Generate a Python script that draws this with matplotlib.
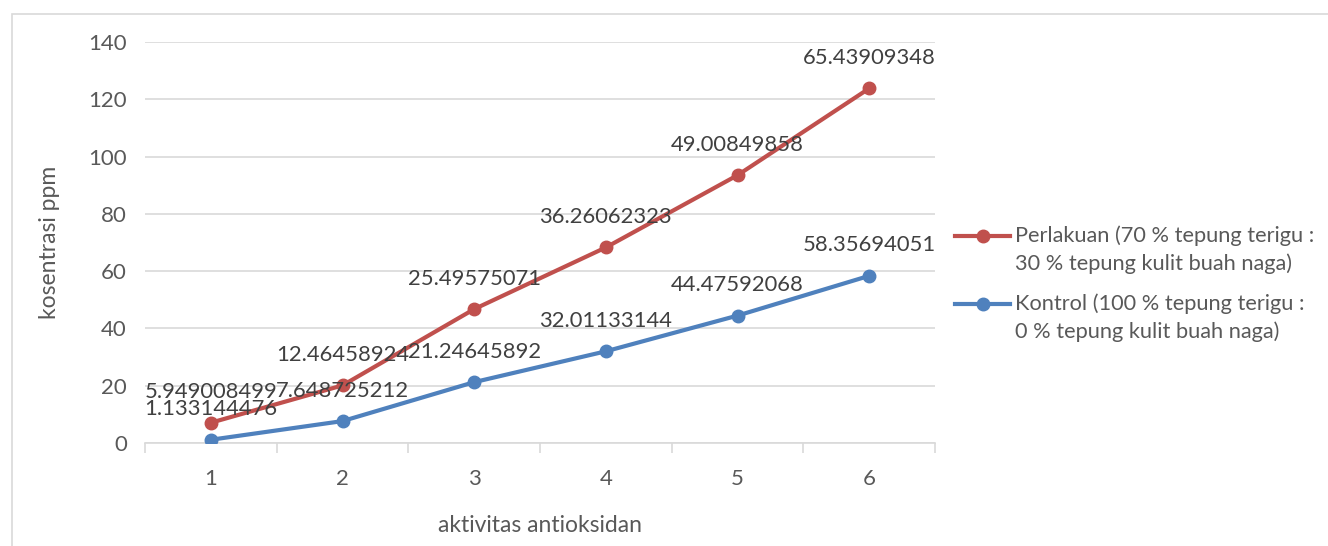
import matplotlib
matplotlib.use("Agg")
import matplotlib.pyplot as plt
from matplotlib.lines import Line2D
from matplotlib.patches import Rectangle
import numpy as np

categories = [1, 2, 3, 4, 5, 6]
kontrol = [1.133144476, 7.648725212, 21.24645892, 32.01133144, 44.47592068, 58.35694051]
perlakuan = [5.949008499, 12.46458924, 25.49575071, 36.26062323, 49.00849858, 65.43909348]
label_perlakuan = ["Perlakuan (70 % tepung terigu :", "30 % tepung kulit buah naga)"]
label_kontrol = ["Kontrol (100 % tepung terigu :", "0 % tepung kulit buah naga)"]
y_ticks = [0, 20, 40, 60, 80, 100, 120, 140]

RED = "#C0504D"
BLUE = "#4F81BD"
TXT = "#595959"
LBL = "#404040"
FONT = "Lato"

W, H = 1328, 546
fig = plt.figure(figsize=(W / 100, H / 100), dpi=100)
fig.patch.set_facecolor("white")

# chart border (Excel chart area)
fig.patches.append(Rectangle((12 / W, 1 - 560 / H), 1340 / W, (560 - 14) / H,
                             transform=fig.transFigure, fill=False,
                             edgecolor="#d9d9d9", linewidth=1.2))

ax = fig.add_axes([145 / W, 1 - 443 / H, (935 - 145) / W, (443 - 42) / H])
x = np.arange(len(categories))
stacked = np.add(kontrol, perlakuan)

ax.plot(x, kontrol, color=BLUE, lw=3, marker="o", ms=9, zorder=3, solid_capstyle="round")
ax.plot(x, stacked, color=RED, lw=3, marker="o", ms=9, zorder=3, solid_capstyle="round")

for xi, yv, v in zip(x, kontrol, kontrol):
    ax.annotate(f"{v:.10g}", (xi, yv), xytext=(0, 22), textcoords="offset points",
                ha="center", va="center", fontsize=15.8, color=LBL, family=FONT, zorder=4)
for xi, yv, v in zip(x, stacked, perlakuan):
    ax.annotate(f"{v:.10g}", (xi, yv), xytext=(0, 22), textcoords="offset points",
                ha="center", va="center", fontsize=15.8, color=LBL, family=FONT, zorder=4)

ax.set_xlim(-0.5, len(categories) - 0.5)
ax.set_ylim(0, 140)
ax.set_yticks(y_ticks)
ax.set_yticklabels([str(t) for t in y_ticks], family=FONT, fontsize=16, color=TXT)
ax.set_xticks(x)
ax.set_xticklabels([str(c) for c in categories], family=FONT, fontsize=16, color=TXT)
ax.set_xticks(np.arange(-0.5, len(categories), 1.0), minor=True)
ax.tick_params(axis="x", which="major", length=0, pad=19)
ax.tick_params(axis="x", which="minor", length=7, color="#d9d9d9", width=1.2, direction="out")
ax.tick_params(axis="y", length=0, pad=13)
ax.grid(axis="y", color="#d9d9d9", lw=1.2)
ax.set_axisbelow(True)
for s in ["top", "right", "left"]:
    ax.spines[s].set_visible(False)
ax.spines["bottom"].set_color("#d9d9d9")
ax.spines["bottom"].set_linewidth(1.2)

ax.set_ylabel("kosentrasi ppm", family=FONT, fontsize=16.5, color=TXT, va="center")
ax.yaxis.set_label_coords((50 - 145) / 790, 0.5)
ax.set_xlabel("aktivitas antioksidan", family=FONT, fontsize=16.5, color=TXT, va="center")
ax.xaxis.set_label_coords(0.5, (443 - 525) / 401)

# legend (Excel style: marker aligned to first line)
def legend_entry(ypix, color, lines):
    yf = 1 - ypix / H
    fig.add_artist(Line2D([955 / W, 1010 / W], [yf, yf], color=color, lw=3,
                          transform=fig.transFigure))
    fig.add_artist(Line2D([982.5 / W], [yf], color=color, marker="o", ms=9,
                          transform=fig.transFigure))
    for i, t in enumerate(lines):
        fig.text(1015 / W, 1 - (ypix + i * 28) / H, t, family=FONT, fontsize=15.7,
                 color=TXT, va="center", ha="left")

legend_entry(236, RED, label_perlakuan)
legend_entry(304, BLUE, label_kontrol)

fig.savefig("out.png", dpi=100)
